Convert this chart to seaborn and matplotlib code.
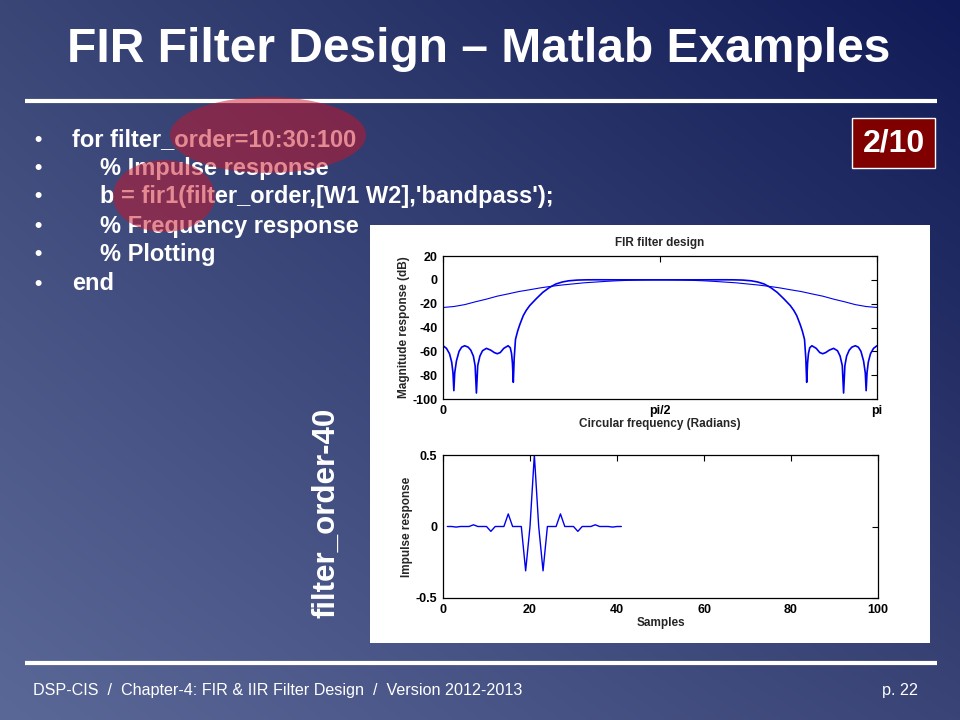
import numpy as np
import pandas as pd
import matplotlib
matplotlib.use("Agg")
import matplotlib.pyplot as plt
import seaborn as sns
from matplotlib.patches import Ellipse, Rectangle

# ---------------- data ----------------
# frequency in units of pi, magnitude in dB
freq_order10 = [0.000, 0.025, 0.050, 0.075, 0.100, 0.125, 0.150, 0.175, 0.200, 0.225,
                0.250, 0.275, 0.300, 0.325, 0.350, 0.375, 0.400, 0.425, 0.450, 0.475,
                0.500, 0.525, 0.550, 0.575, 0.600, 0.625, 0.650, 0.675, 0.700, 0.725,
                0.750, 0.775, 0.800, 0.825, 0.850, 0.875, 0.900, 0.925, 0.950, 0.975, 1.000]
mag_order10 = [-23.2, -22.4, -20.8, -18.4, -16.2, -13.7, -11.8, -9.8, -8.3, -6.7,
               -5.4, -4.3, -3.4, -2.5, -1.9, -1.3, -0.8, -0.45, -0.2, -0.05,
               0.0, -0.05, -0.2, -0.45, -0.8, -1.3, -1.9, -2.5, -3.4, -4.3,
               -5.4, -6.7, -8.3, -9.8, -11.8, -13.7, -16.2, -18.4, -20.8, -22.4, -23.2]

freq_order40 = [0.000, 0.008, 0.015, 0.020, 0.023, 0.025, 0.027, 0.031, 0.037, 0.043,
                0.050, 0.058, 0.064, 0.070, 0.074, 0.077, 0.080, 0.085, 0.091, 0.100,
                0.110, 0.118, 0.125, 0.132, 0.140, 0.150, 0.155, 0.158, 0.160, 0.162,
                0.164, 0.167, 0.172, 0.177, 0.185, 0.192, 0.200, 0.215, 0.230, 0.245,
                0.260, 0.275, 0.290, 0.310, 0.330, 0.350, 0.400, 0.450, 0.500, 0.550,
                0.600, 0.650, 0.670, 0.690, 0.710, 0.725, 0.740, 0.755, 0.770, 0.785,
                0.800, 0.808, 0.815, 0.823, 0.828, 0.833, 0.836, 0.838, 0.840, 0.842,
                0.845, 0.850, 0.860, 0.868, 0.875, 0.882, 0.890, 0.900, 0.909, 0.915,
                0.920, 0.923, 0.926, 0.930, 0.936, 0.942, 0.950, 0.957, 0.963, 0.969,
                0.973, 0.975, 0.977, 0.980, 0.985, 0.992, 1.000]
mag_order40 = [-55.3, -57.5, -62.0, -69.0, -78.0, -93.0, -78.0, -68.0, -60.0, -56.5,
               -55.3, -56.5, -59.0, -64.0, -72.0, -95.0, -72.0, -64.0, -59.5, -57.5,
               -59.0, -61.0, -62.0, -61.0, -57.5, -55.3, -57.0, -62.0, -70.0, -86.0,
               -66.0, -50.0, -43.0, -37.5, -30.0, -25.5, -21.5, -15.8, -10.5, -6.5,
               -3.5, -1.8, -0.8, -0.2, 0.0, 0.05, 0.0, 0.0, 0.0, 0.0,
               0.0, 0.05, 0.0, -0.2, -0.8, -1.8, -3.5, -6.5, -10.5, -15.8,
               -21.5, -25.5, -30.0, -37.5, -43.0, -50.0, -66.0, -86.0, -70.0, -62.0,
               -57.0, -55.3, -57.5, -61.0, -62.0, -61.0, -59.0, -57.5, -59.5, -64.0,
               -72.0, -95.0, -72.0, -64.0, -59.0, -56.5, -55.3, -56.5, -60.0, -68.0,
               -78.0, -93.0, -78.0, -69.0, -62.0, -57.5, -55.3]

samples = list(range(1, 42))
impulse = [0.0, 0.0, -0.004, 0.0, 0.0, 0.0, 0.012, 0.0, 0.0, 0.0,
           -0.034, 0.0, 0.0, 0.0, 0.088, 0.0, 0.0, 0.0, -0.31, 0.0,
           0.5, 0.0, -0.31, 0.0, 0.0, 0.0, 0.088, 0.0, 0.0, 0.0,
           -0.034, 0.0, 0.0, 0.0, 0.012, 0.0, 0.0, 0.0, -0.004, 0.0, 0.0]

freq_ticks = [0, 0.5, 1]
freq_ticklabels = ["0", "pi/2", "pi"]
mag_ticks = [-100, -80, -60, -40, -20, 0, 20]
sample_ticks = [0, 20, 40, 60, 80, 100]
imp_ticks = [-0.5, 0, 0.5]
imp_ticklabels = ["-0.5", "0", "0.5"]

title_text = "FIR Filter Design \u2013 Matlab Examples"
code_lines = ["for filter_order=10:30:100",
              "% Impulse response",
              "b = fir1(filter_order,[W1 W2],'bandpass');",
              "% Frequency response",
              "% Plotting",
              "end"]
code_indent = [0, 1, 1, 1, 1, 0]
footer_text = "DSP-CIS  /  Chapter-4: FIR & IIR Filter Design  /  Version 2012-2013"
page_text = "p. 22"
slide_counter = "2/10"
side_label = "filter_order-40"

# ---------------- styling ----------------
sns.set_style("white")
plt.rcParams["font.family"] = ["Liberation Sans", "DejaVu Sans"]
plt.rcParams["axes.unicode_minus"] = False

W, H = 960, 720
fig = plt.figure(figsize=(9.6, 7.2), dpi=100)

bg = fig.add_axes([0, 0, 1, 1])
bg.set_xlim(0, W)
bg.set_ylim(H, 0)
bg.axis("off")

# gradient background (bilinear between corner colours)
tl = np.array([58, 70, 118]) / 255
tr = np.array([16, 26, 86]) / 255
bl = np.array([90, 104, 152]) / 255
br = np.array([58, 68, 118]) / 255
u = np.linspace(0, 1, 240)[None, :, None]
v = np.linspace(0, 1, 180)[:, None, None]
grad = (1 - v) * ((1 - u) * tl + u * tr) + v * ((1 - u) * bl + u * br)
bg.imshow(grad, extent=(0, W, H, 0), aspect="auto", zorder=0, interpolation="bilinear")

bg.text(479, 62, title_text, ha="center", va="baseline", fontsize=34.5,
        weight="bold", color="white", zorder=2)
bg.plot([25, 937], [101, 101], color="white", lw=3, solid_capstyle="butt", zorder=2)
bg.plot([25, 937], [663, 663], color="white", lw=3, solid_capstyle="butt", zorder=2)

baselines = [146.5, 175.5, 203.5, 232.5, 261.5, 290.5]
for line, ind, yb in zip(code_lines, code_indent, baselines):
    bg.text(34, yb - 1, "\u2022", ha="left", va="baseline", fontsize=15, weight="bold",
            color="white", zorder=2)
    bg.text(72 + 28 * ind, yb, line, ha="left", va="baseline", fontsize=17,
            weight="bold", color="white", zorder=2)

red = (0.80, 0.08, 0.16)
bg.add_patch(Ellipse((268, 135), 196, 76, facecolor=red, alpha=0.5, edgecolor="none", zorder=3))
bg.add_patch(Ellipse((164, 196), 102, 72, facecolor=red, alpha=0.5, edgecolor="none", zorder=3))

bg.add_patch(Rectangle((852, 118), 83, 50, facecolor="#800000", edgecolor="white", lw=1, zorder=2))
bg.text(893.5, 143, slide_counter, ha="center", va="center", fontsize=23, weight="bold",
        color="white", zorder=3)

bg.text(326, 513, side_label, rotation=90, ha="center", va="center", fontsize=22.5,
        weight="bold", color="white", zorder=2)

bg.add_patch(Rectangle((370, 225), 560, 418, facecolor="white", edgecolor="none", zorder=2))

bg.text(33, 690, footer_text, ha="left", va="center", fontsize=11.6,
        color="white", zorder=2)
bg.text(918, 690, page_text, ha="right", va="center", fontsize=11.6,
        color="white", zorder=2)


def style_axes(ax):
    ax.set_facecolor("white")
    for s in ax.spines.values():
        s.set_color("black")
        s.set_linewidth(0.9)
    ax.tick_params(direction="in", top=True, right=True, length=4, width=0.8,
                   labelsize=9, pad=4, colors="black")
    for lab in ax.get_xticklabels() + ax.get_yticklabels():
        lab.set_fontweight("bold")


df10 = pd.DataFrame({"freq": freq_order10, "mag": mag_order10})
df40 = pd.DataFrame({"freq": freq_order40, "mag": mag_order40})
dfimp = pd.DataFrame({"n": samples, "h": impulse})

ax1 = fig.add_axes([443 / W, 1 - 399 / H, 434 / W, 143 / H])
sns.lineplot(data=df10, x="freq", y="mag", ax=ax1, color="#0000ee", lw=0.8, estimator=None)
sns.lineplot(data=df40, x="freq", y="mag", ax=ax1, color="#0000ee", lw=1.2, estimator=None)
ax1.set_xlim(0, 1)
ax1.set_ylim(-100, 20)
ax1.set_xticks(freq_ticks)
ax1.set_xticklabels(freq_ticklabels)
ax1.set_yticks(mag_ticks)
ax1.set_yticklabels([str(t) for t in mag_ticks])
style_axes(ax1)
ax1.set_title("FIR filter design", fontsize=8.5, weight="bold", pad=7)
ax1.set_xlabel("Circular frequency (Radians)", fontsize=8.5, weight="bold", labelpad=1)
ax1.set_ylabel("Magnitude response (dB)", fontsize=8.5, weight="bold", labelpad=2)

ax2 = fig.add_axes([443 / W, 1 - 598 / H, 435 / W, 143 / H])
sns.lineplot(data=dfimp, x="n", y="h", ax=ax2, color="#0000ee", lw=1.0, estimator=None)
ax2.set_xlim(0, 100)
ax2.set_ylim(-0.5, 0.5)
ax2.set_xticks(sample_ticks)
ax2.set_yticks(imp_ticks)
ax2.set_yticklabels(imp_ticklabels)
style_axes(ax2)
ax2.set_xlabel("Samples", fontsize=8.5, weight="bold", labelpad=1)
ax2.set_ylabel("Impulse response", fontsize=8.5, weight="bold", labelpad=2)

fig.savefig("out.png", dpi=100)
